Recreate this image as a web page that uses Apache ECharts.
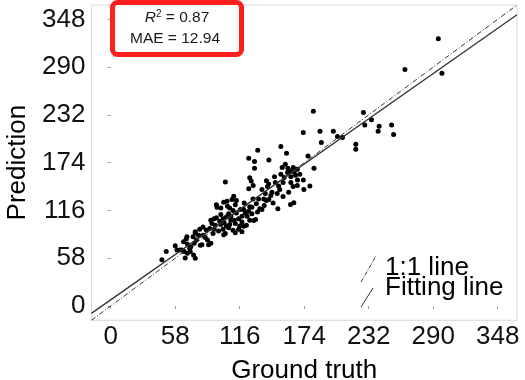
<!DOCTYPE html>
<html><head><meta charset="utf-8">
<script src="https://cdn.jsdelivr.net/npm/echarts@6/dist/echarts.min.js"></script>
<style>html,body{margin:0;padding:0;background:#fff}#c{width:525px;height:380px}</style>
</head><body><div id="c"></div>
<script>
// ---- data ----
const groundTruth = [
  294.6,264.6,297.9,252.6,254.4,182.2,227.3,234.5,228.5,241.4,240.5,173.2,188.2,200.2,203.9,208.4,189.4,220.4,220.4,177.4,
  182.8,164.2,167.8,162.0,165.0,166.2,173.2,162.0,164.0,167.8,173.7,179.1,153.0,132.2,158.1,124.1,129.3,142.2,129.3,103.1,
  125.0,126.3,128.1,124.1,154.2,159.3,147.3,153.0,156.0,159.0,162.0,140.0,142.0,141.0,151.0,152.0,149.7,136.0,139.0,133.0,
  137.7,142.2,161.7,150.3,164.7,134.0,136.0,125.0,130.2,119.6,121.0,118.0,122.7,112.0,116.6,109.1,104.6,105.0,107.0,95.6,
  99.0,101.6,110.6,119.6,90,95,98,102,104,108,112,115,118,122,125,124,127,113,110,93,
  99,101,106,108,91,94,99,104,107,111,116,110,112,115,118,83,86,89,93,97,
  101,103,76,80,79,83,68.5,74,77,87,90,88,82,65.5,69,72,71,64,66,71.5,
  69,75,58,59.5,62,67,74.5,76,49.9,46,128.6,67.9,76,95,101.6,80.6,145,155,148,170,
  157,144,131,128,120,113,146,138,155,160,168,132,127,140,92,85,106
];
const prediction = [
  324.5,287.0,282.6,219.6,208.2,236.3,235.0,226.0,219.6,218.3,212.2,210.6,212.2,212.2,205.8,204.5,198.4,196.3,190.3,182.1,
  167.1,168.0,165.9,164.0,162.5,158.6,152.8,150.0,145.0,146.4,141.5,145.5,193.6,189.1,185.4,179.3,175.3,177.2,167.1,150.4,
  155.8,151.6,146.4,142.3,168.0,167.1,157.0,160.0,156.0,162.0,157.0,152.0,148.0,145.0,145.5,141.5,136.6,141.5,136.6,130.0,
  130.0,129.3,123.2,118.0,125.3,118.0,117.0,120.4,104.9,117.0,113.0,109.0,109.0,123.0,117.0,129.3,127.0,121.0,119.0,120.0,
  119.0,126.0,133.3,96.7,104,107,103,101,108,104,100,106,102,98,104,115,112,113,116,106,
  111,106,112,109,100,98,99,97,99,104,97,92,89,93,90,96,92,94,93,91,
  93,88,90,93,86,86,84,84,80,80,76,74.4,74.4,78,75,72,70,68,66,66,
  64,76,73.2,68,68,58.2,62,58,66.2,56.1,103.7,81.4,88.7,122.8,86.6,73.6,138,150,150,160,
  172,134,124,130,125,128,125,122,133,138,153,114,120,128,88,83,95
];
const tickValues = [0, 58, 116, 174, 232, 290, 348];
const axisMin = -17.4, axisMax = 365.4;
const oneToOneLine = [[-17.4, -17.4], [365.4, 365.4]];
const fittingLine = [[-17.4, -9.0], [365.4, 353.5]];
const r2Value = '0.87';
const maeValue = '12.94';
const legendNames = ['1:1 line', 'Fitting line'];
const axisNames = ['Ground truth', 'Prediction'];

// ---- chart ----
const FONT = 'Liberation Sans';
const FS = 26;
const points = groundTruth.map((g, i) => [g, prediction[i]]);
const chart = echarts.init(document.getElementById('c'), null, {renderer: 'canvas'});

function axisCfg(name, gap, isY) {
  return {
    type: 'value', min: axisMin, max: axisMax,
    name: name, nameLocation: 'middle', nameGap: gap,
    nameTextStyle: {fontFamily: FONT, fontSize: FS, color: '#000'},
    axisLine: {show: false},
    splitLine: {show: false},
    axisTick: {show: true, length: 3, lineStyle: {color: '#999', width: 1}, customValues: tickValues},
    axisLabel: {customValues: tickValues, fontFamily: FONT, fontSize: FS, color: '#111', margin: isY ? 6 : 4}
  };
}

chart.setOption({
  animation: false,
  backgroundColor: '#fff',
  grid: {left: 91.4, right: 8, top: 5, bottom: 59.7, show: true, borderColor: '#d9d9d9', borderWidth: 1,
         containLabel: false, outerBoundsMode: 'none'},
  xAxis: axisCfg(axisNames[0], 38, false),
  yAxis: axisCfg(axisNames[1], 50, true),
  series: [
    {type: 'scatter', data: points, symbolSize: 5, itemStyle: {color: '#000', opacity: 1}, z: 2},
    {type: 'line', name: legendNames[0], data: oneToOneLine, showSymbol: false, symbol: 'none',
     lineStyle: {color: '#333', width: 1, type: [5, 2, 1, 2]}, z: 3},
    {type: 'line', name: legendNames[1], data: fittingLine, showSymbol: false, symbol: 'none',
     lineStyle: {color: '#333', width: 1.3}, z: 3}
  ],
  graphic: [
    {type: 'rect', z: 10, shape: {x: 112.5, y: 2.5, width: 129, height: 52, r: 5},
     style: {fill: '#fff', stroke: '#ff1f1f', lineWidth: 5}},
    {type: 'text', z: 11, style: {
      text: '{i|R}{s|2}{n| = ' + r2Value + '}', x: 177, y: 18, align: 'center', verticalAlign: 'middle',
      rich: {
        i: {fontFamily: FONT, fontSize: 15.5, fontStyle: 'italic', fill: '#1a1a1a', lineHeight: 18},
        s: {fontFamily: FONT, fontSize: 10, fill: '#1a1a1a', verticalAlign: 'top', lineHeight: 18},
        n: {fontFamily: FONT, fontSize: 15.5, fill: '#1a1a1a', lineHeight: 18}
      }}},
    {type: 'text', z: 11, style: {text: 'MAE = ' + maeValue, x: 175, y: 39, align: 'center', verticalAlign: 'middle',
      fontFamily: FONT, fontSize: 15.5, fill: '#1a1a1a'}},
    {type: 'line', z: 11, shape: {x1: 361, y1: 282, x2: 376, y2: 256},
     style: {stroke: '#333', lineWidth: 1, lineDash: [4, 1.5, 1, 1.5]}},
    {type: 'line', z: 11, shape: {x1: 361, y1: 307, x2: 373, y2: 288},
     style: {stroke: '#333', lineWidth: 1}},
    {type: 'text', z: 11, style: {text: legendNames[0], x: 385, y: 268, verticalAlign: 'middle',
      fontFamily: FONT, fontSize: FS, fill: '#000'}},
    {type: 'text', z: 11, style: {text: legendNames[1], x: 385, y: 288, verticalAlign: 'middle',
      fontFamily: FONT, fontSize: FS, fill: '#000'}}
  ]
});
</script>
</body></html>
